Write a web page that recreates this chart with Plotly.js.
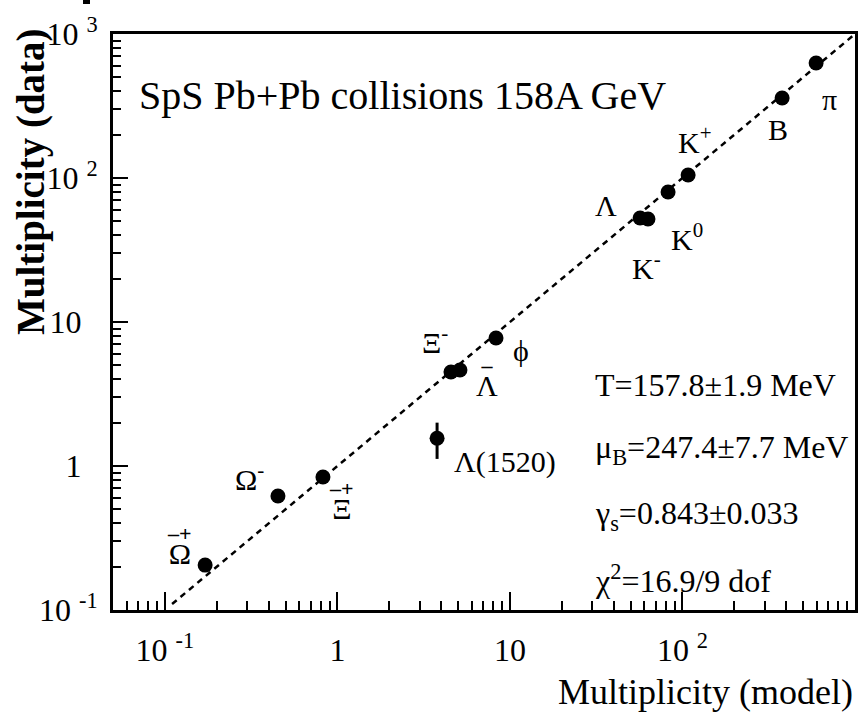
<!DOCTYPE html>
<html>
<head>
<meta charset="utf-8">
<script src="https://cdn.plot.ly/plotly-3.0.1.min.js"></script>
<style>
  html, body { margin: 0; padding: 0; background: #fff; }
  #chart { width: 861px; height: 713px; }
</style>
</head>
<body>
<div id="chart"></div>
<script>
// Hadron multiplicities at SpS (Pb+Pb, 158A GeV): statistical-model fit vs. measurement.
// Particle names: base symbol plus an optional row printed above it (antiparticle bar / charge).
const particleLabels = [
  "\u03A9", "\u03A9<sup>-</sup>", "\u039E", "\u039B(1520)",
  "\u039E<sup>-</sup>", "\u039B", "\u03D5", "\u039B", "K<sup>-</sup>",
  "K<sup>0</sup>", "K<sup>+</sup>", "B", "\u03C0"
];
const particleTops = ["\u2013+", "", "\u2013+", "", "", "\u2013", "", "", "", "", "", "", ""];
const modelMult = [0.171, 0.452, 0.824, 3.78, 4.55, 5.13, 8.3, 56.8, 63.1, 82.5, 107.8, 378, 595];
const dataMult  = [0.205, 0.619, 0.839, 1.56, 4.5, 4.64, 7.74, 52.8, 51.9, 80.0, 104.9, 359, 629];
const dataErr   = [0, 0, 0, 0.44, 0, 0, 0, 0, 0, 0, 0, 0, 0];

// y = x reference line
const diagX = [0.11, 1000];
const diagY = [0.11, 1000];

// axis ticks
const xTickVals = [0.1, 1, 10, 100];
const xTickText = ["10\u00a0<sup>-1</sup>", "1", "10", "10\u00a0<sup>2</sup>"];
const yTickVals = [0.1, 1, 10, 100, 1000];
const yTickText = ["10\u00a0<sup>-1</sup>", "1\u00a0\u00a0", "10\u00a0\u00a0", "10\u00a0<sup>2</sup>", "10\u00a0<sup>3</sup>"];

// fit results
const fitLines = [
  "T=157.8\u00b11.9 MeV",
  "\u03bc<sub>B</sub>=247.4\u00b17.7 MeV",
  "\u03b3<sub>s</sub>=0.843\u00b10.033",
  "\u03c7<sup>2</sup>=16.9/9 dof"
];

// label placement relative to each point (pixels: right, down)
const labelOffsets = [
  [-26, -20], [-28, -19], [19, 24], [68, 24], [-16, -32], [27, 7], [25, 12],
  [-34, -12], [-1, 47], [19, 45], [7, -35], [-4, 31], [13, 37]
];

const SERIF = "Liberation Serif";
const W = 861, H = 713;
const M = { l: 113, r: 6, t: 34, b: 103 };
const plotW = W - M.l - M.r, plotH = H - M.t - M.b;
const px = x => (x - M.l) / plotW;
const py = y => (H - M.b - y) / plotH;

function minorVals(lo, hi) {
  const out = [];
  for (let e = lo; e < hi; e++) {
    for (let d = 2; d <= 9; d++) out.push(d * Math.pow(10, e));
  }
  return out;
}

const traces = [
  {
    x: diagX, y: diagY, type: "scatter", mode: "lines",
    line: { color: "black", width: 2.5, dash: "6px,5px" },
    hoverinfo: "skip"
  },
  {
    x: modelMult, y: dataMult, type: "scatter", mode: "markers",
    marker: { color: "black", size: 15, symbol: "circle" },
    error_y: { type: "data", array: dataErr, visible: true, color: "black", thickness: 3, width: 0 }
  }
];

const annotations = [];
particleLabels.forEach((txt, i) => {
  let text = txt, size = 30;
  if (particleTops[i]) {
    // two-row label: small line pitch, glyph sizes set per row
    text = "<span style=\"font-size:22px\"><b>" + particleTops[i] + "</b></span><br>" +
           "<span style=\"font-size:30px\">" + txt + "</span>";
    size = 18;
  }
  annotations.push({
    x: Math.log10(modelMult[i]), y: Math.log10(dataMult[i]), xref: "x", yref: "y",
    text: text, showarrow: false, xanchor: "center", yanchor: "middle", align: "center",
    xshift: labelOffsets[i][0], yshift: -labelOffsets[i][1],
    font: { family: SERIF, size: size, color: "black" }
  });
});

annotations.push({
  x: px(137), y: py(95), xref: "paper", yref: "paper",
  text: "SpS Pb+Pb collisions 158A GeV", showarrow: false,
  xanchor: "left", yanchor: "middle",
  font: { family: SERIF, size: 40, color: "black" }
});

const fitY = [385, 449, 515, 579];
fitLines.forEach((txt, i) => {
  annotations.push({
    x: px(593), y: py(fitY[i]), xref: "paper", yref: "paper",
    text: txt, showarrow: false, xanchor: "left", yanchor: "middle",
    font: { family: SERIF, size: 32, color: "black" }
  });
});

// axis titles
annotations.push({
  x: px(855), y: py(692), xref: "paper", yref: "paper",
  text: "Multiplicity (model)", showarrow: false,
  xanchor: "right", yanchor: "middle",
  font: { family: SERIF, size: 36, color: "black" }
});
annotations.push({
  x: px(31), y: py(182), xref: "paper", yref: "paper",
  text: "<b>Multiplicity (data)</b>", showarrow: false, textangle: -90,
  xanchor: "center", yanchor: "middle",
  font: { family: SERIF, size: 39, color: "black" }
});

const axisCommon = {
  type: "log",
  showline: true, linecolor: "black", linewidth: 3, mirror: true,
  showgrid: false, zeroline: false,
  ticks: "inside", tickcolor: "black", tickwidth: 2,
  tickmode: "array",
  tickfont: { family: SERIF, size: 32, color: "black" }
};

const layout = {
  width: W, height: H,
  margin: { l: M.l, r: M.r, t: M.t, b: M.b, pad: 0 },
  paper_bgcolor: "white", plot_bgcolor: "white",
  showlegend: false,
  xaxis: Object.assign({}, axisCommon, {
    range: [Math.log10(0.05), 3],
    tickvals: xTickVals, ticktext: xTickText, ticklen: 18,
    ticklabelstandoff: 10,
    minor: { tickmode: "array", tickvals: minorVals(-2, 3), ticks: "inside", ticklen: 9, tickwidth: 2, tickcolor: "black", showgrid: false }
  }),
  yaxis: Object.assign({}, axisCommon, {
    range: [-1, 3],
    tickvals: yTickVals, ticktext: yTickText, ticklen: 15,
    ticklabelstandoff: 6,
    minor: { tickmode: "array", tickvals: minorVals(-1, 3), ticks: "inside", ticklen: 8, tickwidth: 2, tickcolor: "black", showgrid: false }
  }),
  shapes: [
    { type: "rect", xref: "paper", yref: "paper", x0: px(83), x1: px(90), y0: py(4), y1: py(0),
      fillcolor: "black", line: { width: 0 } }
  ],
  annotations: annotations
};

Plotly.newPlot("chart", traces, layout, { staticPlot: true, displayModeBar: false });
</script>
</body>
</html>
